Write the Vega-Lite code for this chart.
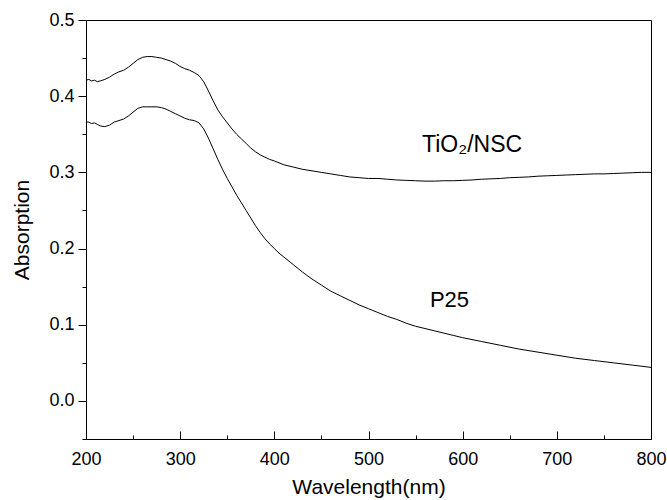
{
  "$schema": "https://vega.github.io/schema/vega-lite/v6.json",
  "width": 565,
  "height": 419,
  "autosize": {"type": "none"},
  "padding": {"left": 86, "top": 20, "right": 16, "bottom": 61},
  "background": "white",
  "config": {
    "view": {"stroke": "black", "strokeWidth": 1},
    "font": "Liberation Sans",
    "axis": {"domainColor": "black", "tickColor": "black", "labelColor": "black", "titleColor": "black", "grid": false, "labelFont": "Liberation Sans", "titleFont": "Liberation Sans", "titleFontWeight": "normal", "labelFontSize": 18, "titleFontSize": 21, "domainWidth": 1, "tickWidth": 1}
  },
  "resolve": {"axis": {"x": "independent", "y": "independent"}},
  "datasets": {
    "spectra": [
      {"series": "TiO2/NSC", "wavelength": 200, "absorption": 0.421},
      {"series": "TiO2/NSC", "wavelength": 203, "absorption": 0.422},
      {"series": "TiO2/NSC", "wavelength": 206, "absorption": 0.420},
      {"series": "TiO2/NSC", "wavelength": 209, "absorption": 0.421},
      {"series": "TiO2/NSC", "wavelength": 212, "absorption": 0.419},
      {"series": "TiO2/NSC", "wavelength": 215, "absorption": 0.420},
      {"series": "TiO2/NSC", "wavelength": 220, "absorption": 0.422},
      {"series": "TiO2/NSC", "wavelength": 225, "absorption": 0.425},
      {"series": "TiO2/NSC", "wavelength": 230, "absorption": 0.429},
      {"series": "TiO2/NSC", "wavelength": 235, "absorption": 0.432},
      {"series": "TiO2/NSC", "wavelength": 240, "absorption": 0.434},
      {"series": "TiO2/NSC", "wavelength": 245, "absorption": 0.438},
      {"series": "TiO2/NSC", "wavelength": 250, "absorption": 0.443},
      {"series": "TiO2/NSC", "wavelength": 255, "absorption": 0.448},
      {"series": "TiO2/NSC", "wavelength": 260, "absorption": 0.451},
      {"series": "TiO2/NSC", "wavelength": 265, "absorption": 0.452},
      {"series": "TiO2/NSC", "wavelength": 270, "absorption": 0.452},
      {"series": "TiO2/NSC", "wavelength": 275, "absorption": 0.451},
      {"series": "TiO2/NSC", "wavelength": 280, "absorption": 0.450},
      {"series": "TiO2/NSC", "wavelength": 285, "absorption": 0.448},
      {"series": "TiO2/NSC", "wavelength": 290, "absorption": 0.446},
      {"series": "TiO2/NSC", "wavelength": 295, "absorption": 0.443},
      {"series": "TiO2/NSC", "wavelength": 300, "absorption": 0.439},
      {"series": "TiO2/NSC", "wavelength": 305, "absorption": 0.436},
      {"series": "TiO2/NSC", "wavelength": 310, "absorption": 0.434},
      {"series": "TiO2/NSC", "wavelength": 315, "absorption": 0.431},
      {"series": "TiO2/NSC", "wavelength": 320, "absorption": 0.427},
      {"series": "TiO2/NSC", "wavelength": 325, "absorption": 0.419},
      {"series": "TiO2/NSC", "wavelength": 330, "absorption": 0.407},
      {"series": "TiO2/NSC", "wavelength": 335, "absorption": 0.394},
      {"series": "TiO2/NSC", "wavelength": 340, "absorption": 0.382},
      {"series": "TiO2/NSC", "wavelength": 345, "absorption": 0.373},
      {"series": "TiO2/NSC", "wavelength": 350, "absorption": 0.365},
      {"series": "TiO2/NSC", "wavelength": 355, "absorption": 0.357},
      {"series": "TiO2/NSC", "wavelength": 360, "absorption": 0.350},
      {"series": "TiO2/NSC", "wavelength": 365, "absorption": 0.344},
      {"series": "TiO2/NSC", "wavelength": 370, "absorption": 0.338},
      {"series": "TiO2/NSC", "wavelength": 375, "absorption": 0.332},
      {"series": "TiO2/NSC", "wavelength": 380, "absorption": 0.327},
      {"series": "TiO2/NSC", "wavelength": 385, "absorption": 0.323},
      {"series": "TiO2/NSC", "wavelength": 390, "absorption": 0.320},
      {"series": "TiO2/NSC", "wavelength": 395, "absorption": 0.317},
      {"series": "TiO2/NSC", "wavelength": 400, "absorption": 0.315},
      {"series": "TiO2/NSC", "wavelength": 410, "absorption": 0.310},
      {"series": "TiO2/NSC", "wavelength": 420, "absorption": 0.307},
      {"series": "TiO2/NSC", "wavelength": 430, "absorption": 0.304},
      {"series": "TiO2/NSC", "wavelength": 440, "absorption": 0.302},
      {"series": "TiO2/NSC", "wavelength": 450, "absorption": 0.300},
      {"series": "TiO2/NSC", "wavelength": 460, "absorption": 0.298},
      {"series": "TiO2/NSC", "wavelength": 470, "absorption": 0.296},
      {"series": "TiO2/NSC", "wavelength": 480, "absorption": 0.294},
      {"series": "TiO2/NSC", "wavelength": 490, "absorption": 0.293},
      {"series": "TiO2/NSC", "wavelength": 500, "absorption": 0.292},
      {"series": "TiO2/NSC", "wavelength": 510, "absorption": 0.292},
      {"series": "TiO2/NSC", "wavelength": 520, "absorption": 0.291},
      {"series": "TiO2/NSC", "wavelength": 530, "absorption": 0.290},
      {"series": "TiO2/NSC", "wavelength": 540, "absorption": 0.2895},
      {"series": "TiO2/NSC", "wavelength": 550, "absorption": 0.289},
      {"series": "TiO2/NSC", "wavelength": 560, "absorption": 0.2885},
      {"series": "TiO2/NSC", "wavelength": 570, "absorption": 0.2885},
      {"series": "TiO2/NSC", "wavelength": 580, "absorption": 0.289},
      {"series": "TiO2/NSC", "wavelength": 590, "absorption": 0.289},
      {"series": "TiO2/NSC", "wavelength": 600, "absorption": 0.2895},
      {"series": "TiO2/NSC", "wavelength": 610, "absorption": 0.290},
      {"series": "TiO2/NSC", "wavelength": 620, "absorption": 0.291},
      {"series": "TiO2/NSC", "wavelength": 630, "absorption": 0.2915},
      {"series": "TiO2/NSC", "wavelength": 640, "absorption": 0.292},
      {"series": "TiO2/NSC", "wavelength": 650, "absorption": 0.293},
      {"series": "TiO2/NSC", "wavelength": 660, "absorption": 0.2935},
      {"series": "TiO2/NSC", "wavelength": 670, "absorption": 0.294},
      {"series": "TiO2/NSC", "wavelength": 680, "absorption": 0.295},
      {"series": "TiO2/NSC", "wavelength": 690, "absorption": 0.2955},
      {"series": "TiO2/NSC", "wavelength": 700, "absorption": 0.296},
      {"series": "TiO2/NSC", "wavelength": 710, "absorption": 0.2965},
      {"series": "TiO2/NSC", "wavelength": 720, "absorption": 0.297},
      {"series": "TiO2/NSC", "wavelength": 730, "absorption": 0.2975},
      {"series": "TiO2/NSC", "wavelength": 740, "absorption": 0.298},
      {"series": "TiO2/NSC", "wavelength": 750, "absorption": 0.298},
      {"series": "TiO2/NSC", "wavelength": 760, "absorption": 0.2985},
      {"series": "TiO2/NSC", "wavelength": 770, "absorption": 0.299},
      {"series": "TiO2/NSC", "wavelength": 780, "absorption": 0.2995},
      {"series": "TiO2/NSC", "wavelength": 790, "absorption": 0.300},
      {"series": "TiO2/NSC", "wavelength": 800, "absorption": 0.300},
      {"series": "P25", "wavelength": 200, "absorption": 0.366},
      {"series": "P25", "wavelength": 203, "absorption": 0.366},
      {"series": "P25", "wavelength": 206, "absorption": 0.364},
      {"series": "P25", "wavelength": 209, "absorption": 0.365},
      {"series": "P25", "wavelength": 212, "absorption": 0.363},
      {"series": "P25", "wavelength": 215, "absorption": 0.361},
      {"series": "P25", "wavelength": 220, "absorption": 0.360},
      {"series": "P25", "wavelength": 225, "absorption": 0.362},
      {"series": "P25", "wavelength": 230, "absorption": 0.366},
      {"series": "P25", "wavelength": 235, "absorption": 0.368},
      {"series": "P25", "wavelength": 240, "absorption": 0.370},
      {"series": "P25", "wavelength": 245, "absorption": 0.374},
      {"series": "P25", "wavelength": 250, "absorption": 0.379},
      {"series": "P25", "wavelength": 255, "absorption": 0.384},
      {"series": "P25", "wavelength": 260, "absorption": 0.386},
      {"series": "P25", "wavelength": 265, "absorption": 0.386},
      {"series": "P25", "wavelength": 270, "absorption": 0.386},
      {"series": "P25", "wavelength": 275, "absorption": 0.386},
      {"series": "P25", "wavelength": 280, "absorption": 0.385},
      {"series": "P25", "wavelength": 285, "absorption": 0.383},
      {"series": "P25", "wavelength": 290, "absorption": 0.380},
      {"series": "P25", "wavelength": 295, "absorption": 0.377},
      {"series": "P25", "wavelength": 300, "absorption": 0.374},
      {"series": "P25", "wavelength": 305, "absorption": 0.371},
      {"series": "P25", "wavelength": 310, "absorption": 0.369},
      {"series": "P25", "wavelength": 315, "absorption": 0.368},
      {"series": "P25", "wavelength": 320, "absorption": 0.365},
      {"series": "P25", "wavelength": 325, "absorption": 0.357},
      {"series": "P25", "wavelength": 330, "absorption": 0.345},
      {"series": "P25", "wavelength": 335, "absorption": 0.331},
      {"series": "P25", "wavelength": 340, "absorption": 0.317},
      {"series": "P25", "wavelength": 345, "absorption": 0.304},
      {"series": "P25", "wavelength": 350, "absorption": 0.292},
      {"series": "P25", "wavelength": 355, "absorption": 0.281},
      {"series": "P25", "wavelength": 360, "absorption": 0.270},
      {"series": "P25", "wavelength": 365, "absorption": 0.260},
      {"series": "P25", "wavelength": 370, "absorption": 0.250},
      {"series": "P25", "wavelength": 375, "absorption": 0.240},
      {"series": "P25", "wavelength": 380, "absorption": 0.230},
      {"series": "P25", "wavelength": 385, "absorption": 0.221},
      {"series": "P25", "wavelength": 390, "absorption": 0.213},
      {"series": "P25", "wavelength": 395, "absorption": 0.206},
      {"series": "P25", "wavelength": 400, "absorption": 0.200},
      {"series": "P25", "wavelength": 405, "absorption": 0.194},
      {"series": "P25", "wavelength": 410, "absorption": 0.189},
      {"series": "P25", "wavelength": 420, "absorption": 0.179},
      {"series": "P25", "wavelength": 430, "absorption": 0.169},
      {"series": "P25", "wavelength": 440, "absorption": 0.160},
      {"series": "P25", "wavelength": 450, "absorption": 0.152},
      {"series": "P25", "wavelength": 460, "absorption": 0.144},
      {"series": "P25", "wavelength": 470, "absorption": 0.138},
      {"series": "P25", "wavelength": 480, "absorption": 0.132},
      {"series": "P25", "wavelength": 490, "absorption": 0.126},
      {"series": "P25", "wavelength": 500, "absorption": 0.121},
      {"series": "P25", "wavelength": 510, "absorption": 0.116},
      {"series": "P25", "wavelength": 520, "absorption": 0.111},
      {"series": "P25", "wavelength": 530, "absorption": 0.107},
      {"series": "P25", "wavelength": 540, "absorption": 0.102},
      {"series": "P25", "wavelength": 550, "absorption": 0.098},
      {"series": "P25", "wavelength": 560, "absorption": 0.095},
      {"series": "P25", "wavelength": 570, "absorption": 0.092},
      {"series": "P25", "wavelength": 580, "absorption": 0.089},
      {"series": "P25", "wavelength": 590, "absorption": 0.086},
      {"series": "P25", "wavelength": 600, "absorption": 0.083},
      {"series": "P25", "wavelength": 620, "absorption": 0.078},
      {"series": "P25", "wavelength": 640, "absorption": 0.073},
      {"series": "P25", "wavelength": 660, "absorption": 0.068},
      {"series": "P25", "wavelength": 680, "absorption": 0.064},
      {"series": "P25", "wavelength": 700, "absorption": 0.060},
      {"series": "P25", "wavelength": 720, "absorption": 0.056},
      {"series": "P25", "wavelength": 740, "absorption": 0.053},
      {"series": "P25", "wavelength": 760, "absorption": 0.050},
      {"series": "P25", "wavelength": 780, "absorption": 0.047},
      {"series": "P25", "wavelength": 800, "absorption": 0.044}
    ],
    "labelA": [
      {"label": "TiO₂/NSC", "wavelength": 610, "absorption": 0.336}
    ],
    "labelB": [
      {"label": "P25", "wavelength": 586, "absorption": 0.132}
    ]
  },
  "layer": [
    {
      "data": {"name": "spectra"},
      "mark": {"type": "line", "color": "black", "strokeWidth": 1, "clip": true},
      "encoding": {
        "x": {
          "field": "wavelength", "type": "quantitative",
          "scale": {"domain": [200, 800], "nice": false, "zero": false},
          "axis": {
            "orient": "bottom",
            "title": "Wavelength(nm)",
            "values": [200, 300, 400, 500, 600, 700, 800],
            "tickSize": -8,
            "labelPadding": 19,
            "titlePadding": 8,
            "labelFlush": false,
            "labelOverlap": false
          }
        },
        "y": {
          "field": "absorption", "type": "quantitative",
          "scale": {"domain": [-0.05, 0.5], "nice": false, "zero": false},
          "axis": {
            "orient": "left",
            "title": "Absorption",
            "values": [0, 0.1, 0.2, 0.3, 0.4, 0.5],
            "format": ".1f",
            "tickSize": 8,
            "labelPadding": 4,
            "titlePadding": 16,
            "labelFlush": false,
            "labelOverlap": false
          }
        },
        "detail": {"field": "series", "type": "nominal"}
      }
    },
    {
      "data": {"name": "labelA"},
      "mark": {"type": "text", "color": "black", "fontSize": 23, "font": "Liberation Sans", "align": "center", "baseline": "middle"},
      "encoding": {
        "x": {
          "field": "wavelength", "type": "quantitative",
          "axis": {"orient": "bottom", "title": null, "labels": false, "domain": false, "tickSize": -4, "values": [250, 350, 450, 550, 650, 750]}
        },
        "y": {
          "field": "absorption", "type": "quantitative",
          "axis": {"orient": "left", "title": null, "labels": false, "domain": false, "tickSize": 4, "values": [-0.05, 0.05, 0.15, 0.25, 0.35, 0.45]}
        },
        "text": {"field": "label", "type": "nominal"}
      }
    },
    {
      "data": {"name": "labelB"},
      "mark": {"type": "text", "color": "black", "fontSize": 22, "font": "Liberation Sans", "align": "center", "baseline": "middle"},
      "encoding": {
        "x": {"field": "wavelength", "type": "quantitative", "axis": null},
        "y": {"field": "absorption", "type": "quantitative", "axis": null},
        "text": {"field": "label", "type": "nominal"}
      }
    }
  ]
}
